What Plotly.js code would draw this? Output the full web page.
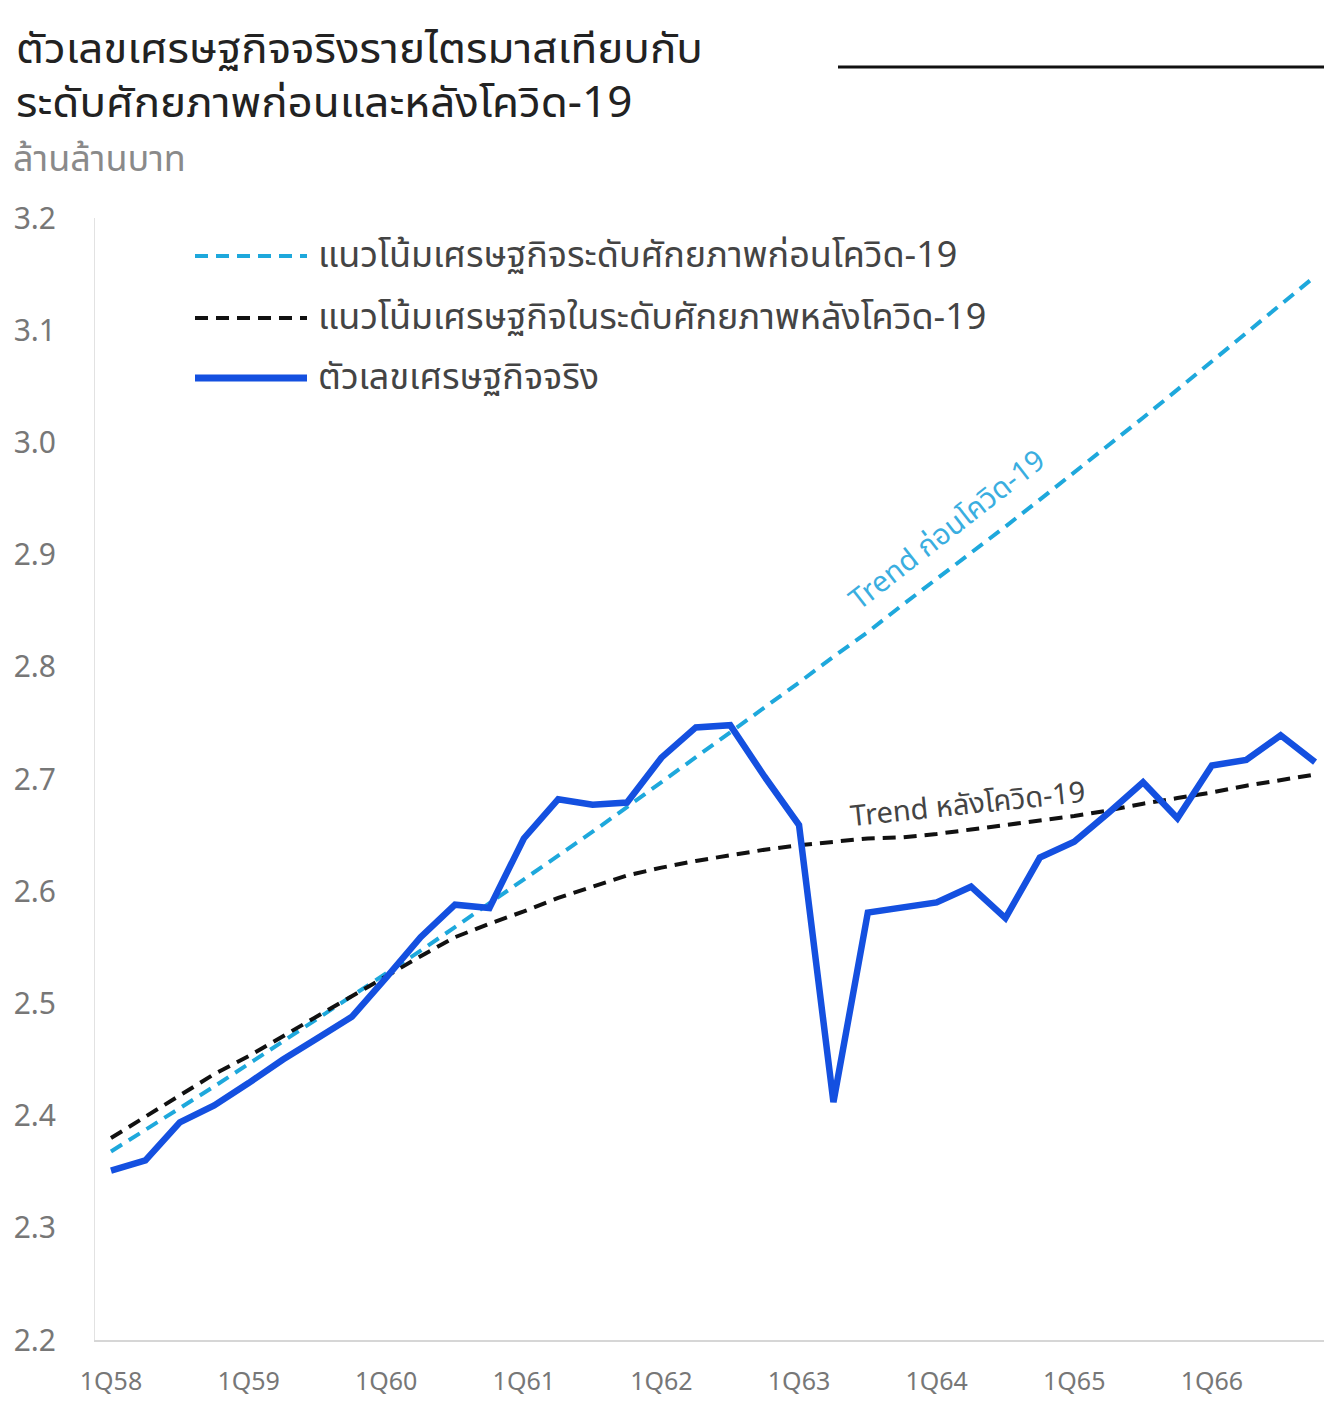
<!DOCTYPE html>
<html><head><meta charset="utf-8">
<script src="https://cdn.plot.ly/plotly-3.0.1.min.js"></script>
<style>html,body{margin:0;padding:0;background:#fff}#chart{width:1324px;height:1401px}</style>
</head><body><div id="chart"></div>
<script>
const quarters = ['1Q58','2Q58','3Q58','4Q58','1Q59','2Q59','3Q59','4Q59','1Q60','2Q60','3Q60','4Q60',
  '1Q61','2Q61','3Q61','4Q61','1Q62','2Q62','3Q62','4Q62','1Q63','2Q63','3Q63','4Q63',
  '1Q64','2Q64','3Q64','4Q64','1Q65','2Q65','3Q65','4Q65','1Q66','2Q66','3Q66','4Q66'];
const tickLabels = ['1Q58','1Q59','1Q60','1Q61','1Q62','1Q63','1Q64','1Q65','1Q66'];
const yTicks = [2.2,2.3,2.4,2.5,2.6,2.7,2.8,2.9,3.0,3.1,3.2];

const actual = [2.351,2.360,2.394,2.409,2.429,2.450,2.469,2.488,2.523,2.559,2.588,2.585,
  2.647,2.682,2.677,2.679,2.719,2.746,2.748,2.702,2.659,2.412,2.581,2.585,
  2.590,2.604,2.576,2.630,2.644,2.670,2.697,2.665,2.712,2.717,2.739,2.715];
const trendPre = [2.368,2.387,2.407,2.426,2.446,2.466,2.486,2.506,2.527,2.547,2.568,2.589,
  2.610,2.632,2.653,2.675,2.697,2.719,2.741,2.763,2.786,2.809,2.831,2.855,
  2.878,2.902,2.925,2.949,2.973,2.998,3.022,3.047,3.072,3.097,3.122,3.148];
const trendPost = [2.380,2.399,2.418,2.437,2.453,2.471,2.489,2.507,2.524,2.542,2.559,2.571,
  2.582,2.594,2.604,2.614,2.621,2.627,2.632,2.637,2.641,2.644,2.647,2.648,
  2.651,2.655,2.659,2.663,2.667,2.672,2.678,2.683,2.688,2.694,2.699,2.704];

const titleLines = ['ตัวเลขเศรษฐกิจจริงรายไตรมาสเทียบกับ','ระดับศักยภาพก่อนและหลังโควิด-19'];
const unitLabel = 'ล้านล้านบาท';
const names = ['แนวโน้มเศรษฐกิจระดับศักยภาพก่อนโควิด-19','แนวโน้มเศรษฐกิจในระดับศักยภาพหลังโควิด-19','ตัวเลขเศรษฐกิจจริง'];
const colPre = '#1ea8dc', colPost = '#111111', colAct = '#1450e0';
const FONT = '"Noto Sans Thai", "Noto Sans", "DejaVu Sans", sans-serif';
const TITLEFONT = '"Noto Sans Thai UI", "Noto Sans Thai", "Noto Sans", sans-serif';
const LATIN = '"Noto Sans", "DejaVu Sans", sans-serif';

const traces = [
  {x: quarters, y: trendPre, type: 'scatter', mode: 'lines', name: names[0], line: {color: colPre, width: 4, dash: '13px,8px'}},
  {x: quarters, y: trendPost, type: 'scatter', mode: 'lines', name: names[1], line: {color: colPost, width: 4, dash: '13px,8px'}},
  {x: quarters, y: actual, type: 'scatter', mode: 'lines', name: names[2], line: {color: colAct, width: 6.5}}
];

const px = v => (v - 95) / 1229;
const py = v => (1340 - v) / 1122;

const legendRows = [
  {y: 256, color: colPre, dash: '13px,8px', width: 4, text: names[0]},
  {y: 318, color: colPost, dash: '13px,8px', width: 4, text: names[1]},
  {y: 378, color: colAct, dash: 'solid', width: 7, text: names[2]}
];

const shapes = [
  {type: 'line', xref: 'paper', yref: 'paper', x0: px(838), x1: 1, y0: py(67), y1: py(67), line: {color: '#111', width: 3}}
];
const annotations = [
  {xref: 'paper', yref: 'paper', x: px(14), y: py(46), xanchor: 'left', yanchor: 'middle', showarrow: false,
   text: titleLines[0], font: {family: TITLEFONT, size: 44, color: '#222'}},
  {xref: 'paper', yref: 'paper', x: px(14), y: py(100), xanchor: 'left', yanchor: 'middle', showarrow: false,
   text: titleLines[1], font: {family: TITLEFONT, size: 44, color: '#222'}},
  {xref: 'paper', yref: 'paper', x: px(11), y: py(160), xanchor: 'left', yanchor: 'middle', showarrow: false,
   text: unitLabel, font: {family: FONT, size: 36, color: '#8a8a8a'}},
  {xref: 'x', yref: 'y', x: 24.33, y: 2.922, showarrow: false, textangle: -38,
   text: 'Trend ก่อนโควิด-19', font: {family: FONT, size: 29, color: '#3aaee0'}},
  {xref: 'x', yref: 'y', x: 24.9, y: 2.677, showarrow: false, textangle: -6,
   text: 'Trend หลังโควิด-19', font: {family: FONT, size: 29, color: '#444'}}
];
legendRows.forEach(r => {
  shapes.push({type: 'line', xref: 'paper', yref: 'paper', x0: px(195), x1: px(307), y0: py(r.y), y1: py(r.y),
    line: {color: r.color, width: r.width, dash: r.dash}});
  annotations.push({xref: 'paper', yref: 'paper', x: px(316), y: py(r.y), xanchor: 'left', yanchor: 'middle',
    showarrow: false, text: r.text, font: {family: FONT, size: 36, color: '#444'}});
});

const layout = {
  width: 1324, height: 1401,
  margin: {l: 95, r: 0, t: 218, b: 61},
  paper_bgcolor: '#fff', plot_bgcolor: '#fff',
  showlegend: false,
  xaxis: {type: 'category', range: [-0.465, 35.26], tickmode: 'array', tickvals: tickLabels, ticktext: tickLabels,
    showgrid: false, zeroline: false, showline: true, linecolor: '#d6d6d6', linewidth: 2,
    ticks: '', ticklabelstandoff: 18, tickfont: {family: LATIN, size: 25, color: '#777'}},
  yaxis: {range: [2.2, 3.2], tickmode: 'array', tickvals: yTicks, tickformat: '.1f',
    showgrid: false, zeroline: false, showline: true, linecolor: '#e2e2e2', linewidth: 1,
    ticks: '', ticklabelstandoff: 32, tickfont: {family: LATIN, size: 30, color: '#777'}},
  shapes: shapes,
  annotations: annotations
};

Plotly.newPlot('chart', traces, layout, {displayModeBar: false, staticPlot: true});
</script>
</body></html>
